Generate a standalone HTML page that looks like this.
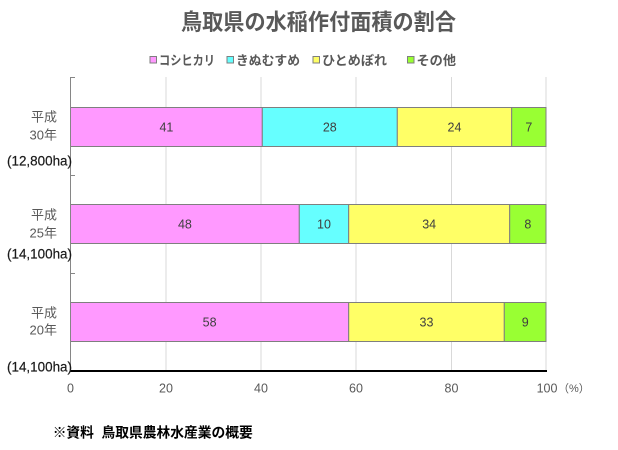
<!DOCTYPE html>
<html><head><meta charset="utf-8"><style>
html,body{margin:0;padding:0;background:#fff;}
svg{display:block;}
text{font-family:"Liberation Sans","Noto Sans CJK JP",sans-serif;}
</style></head><body>
<svg width="618" height="450" viewBox="0 0 618 450" xmlns="http://www.w3.org/2000/svg">
<rect width="618" height="450" fill="#fff"/>
<text x="318.5" y="30" text-anchor="middle" font-size="22.5" font-weight="bold" fill="#595959" textLength="275" lengthAdjust="spacingAndGlyphs">鳥取県の水稲作付面積の割合</text>
<g font-size="13" fill="#595959" font-weight="bold">
<rect x="150" y="56.5" width="6.5" height="6.5" fill="#FF99FF" stroke="#7f7f7f" stroke-width="1"/>
<text x="159" y="65" textLength="56" lengthAdjust="spacingAndGlyphs">コシヒカリ</text>
<rect x="227" y="56.5" width="6.5" height="6.5" fill="#66FFFF" stroke="#7f7f7f" stroke-width="1"/>
<text x="236" y="65" textLength="64" lengthAdjust="spacingAndGlyphs">きぬむすめ</text>
<rect x="313" y="56.5" width="6.5" height="6.5" fill="#FFFF66" stroke="#7f7f7f" stroke-width="1"/>
<text x="322" y="65" textLength="65" lengthAdjust="spacingAndGlyphs">ひとめぼれ</text>
<rect x="407.5" y="56.5" width="6.5" height="6.5" fill="#99FF33" stroke="#7f7f7f" stroke-width="1"/>
<text x="416.5" y="65" textLength="39.5" lengthAdjust="spacingAndGlyphs">その他</text>
</g>
<g stroke="#d9d9d9" stroke-width="1">
<line x1="166" y1="77" x2="166" y2="371"/>
<line x1="261" y1="77" x2="261" y2="371"/>
<line x1="356" y1="77" x2="356" y2="371"/>
<line x1="451.5" y1="77" x2="451.5" y2="371"/>
<line x1="546" y1="77" x2="546" y2="371"/>
</g>
<g stroke="#7f7f7f" stroke-width="1">
<rect x="70.5" y="107.5" width="191.8" height="39" fill="#FF99FF"/>
<rect x="262.3" y="107.5" width="135" height="39" fill="#66FFFF"/>
<rect x="397.3" y="107.5" width="114.4" height="39" fill="#FFFF66"/>
<rect x="511.7" y="107.5" width="34.3" height="39" fill="#99FF33"/>
<rect x="70.5" y="204.5" width="228.8" height="39" fill="#FF99FF"/>
<rect x="299.3" y="204.5" width="49.4" height="39" fill="#66FFFF"/>
<rect x="348.7" y="204.5" width="161" height="39" fill="#FFFF66"/>
<rect x="509.7" y="204.5" width="36.3" height="39" fill="#99FF33"/>
<rect x="70.5" y="302.5" width="278.2" height="39" fill="#FF99FF"/>
<rect x="348.7" y="302.5" width="155.6" height="39" fill="#FFFF66"/>
<rect x="504.3" y="302.5" width="41.7" height="39" fill="#99FF33"/>
</g>
<g font-size="12.5" fill="#404040" text-anchor="middle">
<text x="166.4" y="131.5">41</text>
<text x="329.8" y="131.5">28</text>
<text x="454.5" y="131.5">24</text>
<text x="528.9" y="131.5">7</text>
<text x="184.9" y="228.5">48</text>
<text x="324" y="228.5">10</text>
<text x="429.2" y="228.5">34</text>
<text x="527.9" y="228.5">8</text>
<text x="209.6" y="326.5">58</text>
<text x="426.5" y="326.5">33</text>
<text x="525.2" y="326.5">9</text>
</g>
<g stroke="#868686" stroke-width="1">
<line x1="70.5" y1="77" x2="70.5" y2="371"/>
<line x1="70.5" y1="77.5" x2="75" y2="77.5"/>
<line x1="70.5" y1="175.5" x2="75" y2="175.5"/>
<line x1="70.5" y1="273.5" x2="75" y2="273.5"/>
</g>
<line x1="70" y1="371" x2="547" y2="371" stroke="#000" stroke-width="2"/>
<g font-size="13" fill="#595959" text-anchor="end">
<text x="57" y="121.5">平成</text>
<text x="57" y="139.5">30年</text>
<text x="57" y="219.5">平成</text>
<text x="57" y="237.5">25年</text>
<text x="57" y="317.5">平成</text>
<text x="57" y="334.5">20年</text>
</g>
<g font-size="13.5" fill="#1a1a1a" stroke="#1a1a1a" stroke-width="0.2">
<text x="7" y="165.5" textLength="65" lengthAdjust="spacingAndGlyphs">(12,800ha)</text>
<text x="7" y="258.5" textLength="65" lengthAdjust="spacingAndGlyphs">(14,100ha)</text>
<text x="7" y="371.5" textLength="65" lengthAdjust="spacingAndGlyphs">(14,100ha)</text>
</g>
<g font-size="12.5" fill="#595959" text-anchor="middle">
<text x="70.5" y="392.5">0</text>
<text x="166" y="392.5">20</text>
<text x="261" y="392.5">40</text>
<text x="356" y="392.5">60</text>
<text x="451.5" y="392.5">80</text>
<text x="547" y="392.5">100</text>
</g>
<text x="558" y="392" font-size="11" fill="#595959">（%）</text>
<text x="52.7" y="437.5" font-size="14" fill="#000" font-weight="bold" textLength="200" lengthAdjust="spacingAndGlyphs">※資料&#160;&#160;鳥取県農林水産業の概要</text>
</svg>
</body></html>
